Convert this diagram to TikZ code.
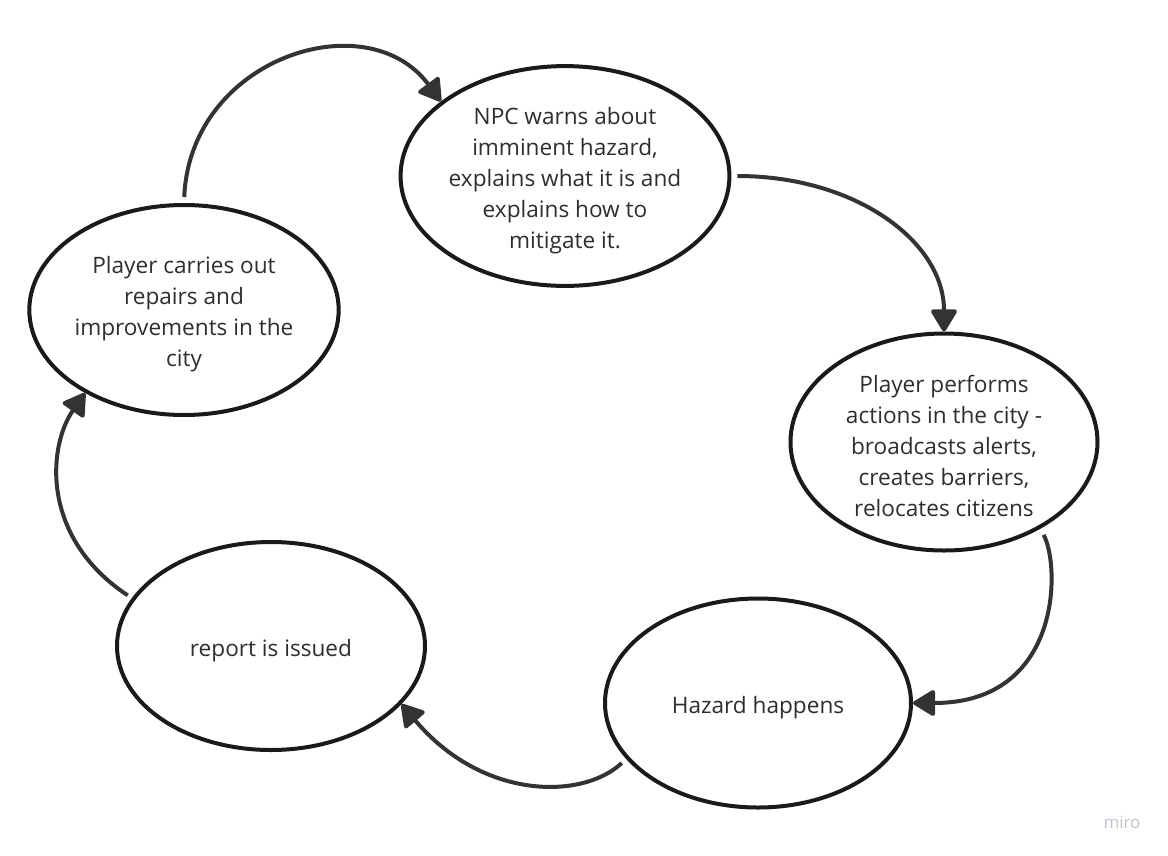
\documentclass[tikz,border=0pt]{standalone}
\usepackage{fontspec}
\setmainfont{Open Sans}
\usetikzlibrary{arrows.meta,shapes.geometric}
\definecolor{edgec}{HTML}{1A1A1A}
\definecolor{arrowc}{HTML}{333333}
\definecolor{txtc}{HTML}{2E2E2E}
\definecolor{miroc}{HTML}{C4C4D0}
\newcommand{\toppad}{\rule{0pt}{26pt}}
\begin{document}
\begin{tikzpicture}[x=1pt,y=-1pt,
  state/.style={ellipse, draw=edgec, line width=4pt, inner sep=0pt, align=center,
    text=txtc, font=\fontsize{22.6}{31}\selectfont},
  flow/.style={draw=arrowc, line width=4pt,
    -{Triangle[length=24pt,width=28pt,round]}}]
\useasboundingbox (0,0) rectangle (1168,855);
\fill[white] (0,0) rectangle (1168,855);

\node[state, minimum width=321pt, minimum height=217pt] (npc) at (565,176)
  {\toppad NPC warns about\\imminent hazard,\\explains what it is and\\explains how to\\mitigate it.};
\node[state, minimum width=307pt, minimum height=217pt] (perf) at (944,442)
  {\toppad Player performs\\actions in the city -\\broadcasts alerts,\\creates barriers,\\relocates citizens};
\node[state, minimum width=306pt, minimum height=209pt] (haz) at (758,703)
  {\toppad Hazard happens};
\node[state, minimum width=308pt, minimum height=208pt] (rep) at (271,646)
  {\toppad report is issued};
\node[state, minimum width=308pt, minimum height=210pt] (pc) at (184,310)
  {\toppad Player carries out\\repairs and\\improvements in the\\city};

\draw[flow, shorten <=6pt] (pc.90) .. controls +(6,-145) and +(-74,-100) .. (npc.149.7);
\draw[flow, shorten <=6pt] (npc.0) .. controls +(124,0) and +(0,-90) .. (perf.90);
\draw[flow, shorten <=7pt] (perf.-42.6) .. controls +(20,37) and +(149,0) .. (haz.0);
\draw[flow, shorten <=6pt] (haz.203.6) .. controls +(-44,41) and +(81,96) .. (rep.-24.2);
\draw[flow, shorten <=5pt] (rep.161.9) .. controls +(-92,-61) and +(-37,53) .. (pc.220);

\node[text=miroc, font=\fontsize{17}{20}\selectfont] (miro) at (1122,822) {miro};
\end{tikzpicture}
\end{document}
